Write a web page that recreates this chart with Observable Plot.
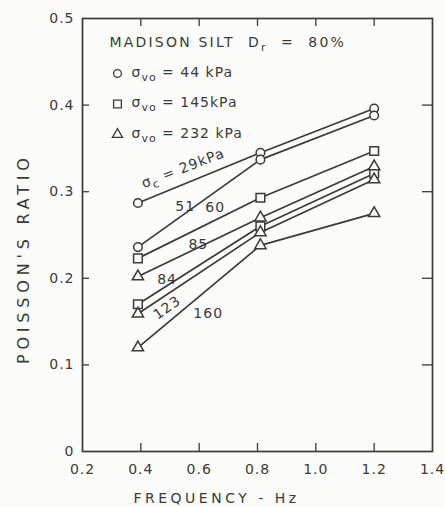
<!DOCTYPE html>
<html>
<head>
<meta charset="utf-8">
<script src="https://cdn.jsdelivr.net/npm/d3@7"></script>
<script src="https://cdn.jsdelivr.net/npm/@observablehq/plot@0.6"></script>
<style>
  html, body { margin: 0; padding: 0; background: #fbfbf9; }
  svg text { letter-spacing: 1px; }
  svg .ylab text { letter-spacing: 4.8px; }
  svg .xlab text { letter-spacing: 3.5px; }
  svg .legend text { letter-spacing: 2.2px; }
</style>
</head>
<body>
<div id="chart"></div>
<script>
// ---- data ----
const frequency = [0.39, 0.81, 1.2];
const seriesLabels = ["29", "51", "60", "85", "84", "123", "160"];
const seriesSymbols = ["circle", "circle", "square", "triangle", "square", "triangle", "triangle"];
const ratio29  = [0.287, 0.345, 0.396];
const ratio51  = [0.236, 0.337, 0.388];
const ratio60  = [0.223, 0.293, 0.347];
const ratio85  = [0.202, 0.270, 0.329];
const ratio84  = [0.170, 0.260, 0.321];
const ratio123 = [0.159, 0.253, 0.314];
const ratio160 = [0.120, 0.238, 0.275];
const seriesValues = [ratio29, ratio51, ratio60, ratio85, ratio84, ratio123, ratio160];

const annoText  = ["σ_{c} = 29kPa", "51", "60", "85", "84", "123", "160"];
const annoFreq  = [0.545, 0.552, 0.655, 0.597, 0.49, 0.49, 0.631];
const annoRatio = [0.327, 0.283, 0.282, 0.239, 0.199, 0.166, 0.159];
const annoAngle = [-21, 0, 0, 0, 0, -35, 0];

const legendTitle = "MADISON SILT\u00a0\u00a0D_{r}\u00a0\u00a0=\u00a0\u00a080%";
const legendSymbols = ["circle", "square", "triangle"];
const legendLabels = ["σ_{vo} = 44 kPa", "σ_{vo} = 145kPa", "σ_{vo} = 232 kPa"];

const xTickLabels = [0.2, 0.4, 0.6, 0.8, 1.0, 1.2, 1.4];
const yTickLabels = [0, 0.1, 0.2, 0.3, 0.4, 0.5];
const xInnerTicks = [0.4, 0.6, 0.8, 1.0, 1.2];
const yInnerTicks = [0.1, 0.2, 0.3, 0.4];

// ---- build ----
const rows = seriesLabels.flatMap((s, i) =>
  frequency.map((f, j) => ({series: s, sym: seriesSymbols[i], freq: f, ratio: seriesValues[i][j]})));
const annos = annoText.map((t, i) => ({text: t, freq: annoFreq[i], ratio: annoRatio[i], angle: annoAngle[i]}));

const ink = "#3a3a3a";
const bg = "#fbfbf9";
const W = 445, H = 507, mL = 82, mR = 13, mT = 18, mB = 56;
const fw = W - mL - mR, fh = H - mT - mB;
const rFor = {circle: 4.3, square: 4.9, triangle: 4.2};

const marks = [
  Plot.frame({stroke: ink, strokeWidth: 1.7}),
  Plot.tickY(yInnerTicks, {y: d => d, insetRight: fw - 7, stroke: ink, strokeWidth: 1.3}),
  Plot.tickY(yInnerTicks, {y: d => d, insetLeft: fw - 10, stroke: ink, strokeWidth: 1.3}),
  Plot.tickX(xInnerTicks, {x: d => d, insetBottom: fh - 8, stroke: ink, strokeWidth: 1.3}),
  Plot.tickX(xInnerTicks, {x: d => d, insetTop: fh - 8, stroke: ink, strokeWidth: 1.3}),
  Plot.axisX({ticks: xTickLabels, tickSize: 0, tickPadding: 13, tickFormat: d3.format(".1f"), label: null, fontSize: 14, fill: ink}),
  Plot.axisY({ticks: yTickLabels, tickSize: 0, tickPadding: 8, tickFormat: d => d === 0 ? "0" : d3.format(".1f")(d), label: null, fontSize: 14, fill: ink}),
  Plot.line(rows, {x: "freq", y: "ratio", z: "series", stroke: ink, strokeWidth: 1.7}),
  ...["circle", "square", "triangle"].map(s =>
    Plot.dot(rows.filter(d => d.sym === s), {x: "freq", y: "ratio", symbol: s, r: rFor[s], fill: bg, stroke: ink, strokeWidth: 1.5})),
  Plot.text(annos, {x: "freq", y: "ratio", text: "text", rotate: "angle", fontSize: 14, fill: ink}),
  Plot.text([legendTitle], {text: d => d, frameAnchor: "top-left", dx: 27, dy: 24, textAnchor: "start", lineAnchor: "middle", fontSize: 14, fill: ink, className: "legend"}),
  ...legendSymbols.map((s, i) =>
    Plot.dot([0], {frameAnchor: "top-left", dx: 35, dy: 55 + i * 30.5, symbol: s, r: rFor[s] * 0.9, fill: bg, stroke: ink, strokeWidth: 1.3})),
  ...legendLabels.map((t, i) =>
    Plot.text([t], {text: d => d, frameAnchor: "top-left", dx: 49, dy: 54 + i * 30.5, textAnchor: "start", lineAnchor: "middle", fontSize: 14, fill: ink})),
  Plot.text(["FREQUENCY - Hz"], {text: d => d, frameAnchor: "bottom", dx: -41, dy: 47, lineAnchor: "middle", fontSize: 14, fill: ink, className: "xlab"}),
  Plot.text(["POISSON'S RATIO"], {text: d => d, frameAnchor: "left", dx: -59, dy: 129, rotate: -90, lineAnchor: "middle", fontSize: 16, fill: ink, className: "ylab"})
];

const svg = Plot.plot({
  width: W, height: H,
  marginLeft: mL, marginRight: mR, marginTop: mT, marginBottom: mB,
  x: {domain: [0.2, 1.4], axis: null},
  y: {domain: [0, 0.5], axis: null},
  style: {fontFamily: "DejaVu Sans", fontSize: "14px", background: bg, color: ink},
  marks
});

// turn _{...} into subscripts
svg.querySelectorAll("text").forEach(t => {
  if (t.querySelector("tspan")) return;
  const s = t.textContent;
  if (!s.includes("_{")) return;
  t.textContent = "";
  const parts = s.split(/_\{([^}]*)\}/);
  let shifted = false;
  parts.forEach((p, i) => {
    if (!p) return;
    const ts = document.createElementNS("http://www.w3.org/2000/svg", "tspan");
    ts.textContent = p;
    if (i % 2 === 1) { ts.setAttribute("dy", "4"); ts.setAttribute("font-size", "11"); shifted = true; }
    else if (shifted) { ts.setAttribute("dy", "-4"); shifted = false; }
    t.appendChild(ts);
  });
});

document.getElementById("chart").appendChild(svg);
</script>
</body>
</html>
